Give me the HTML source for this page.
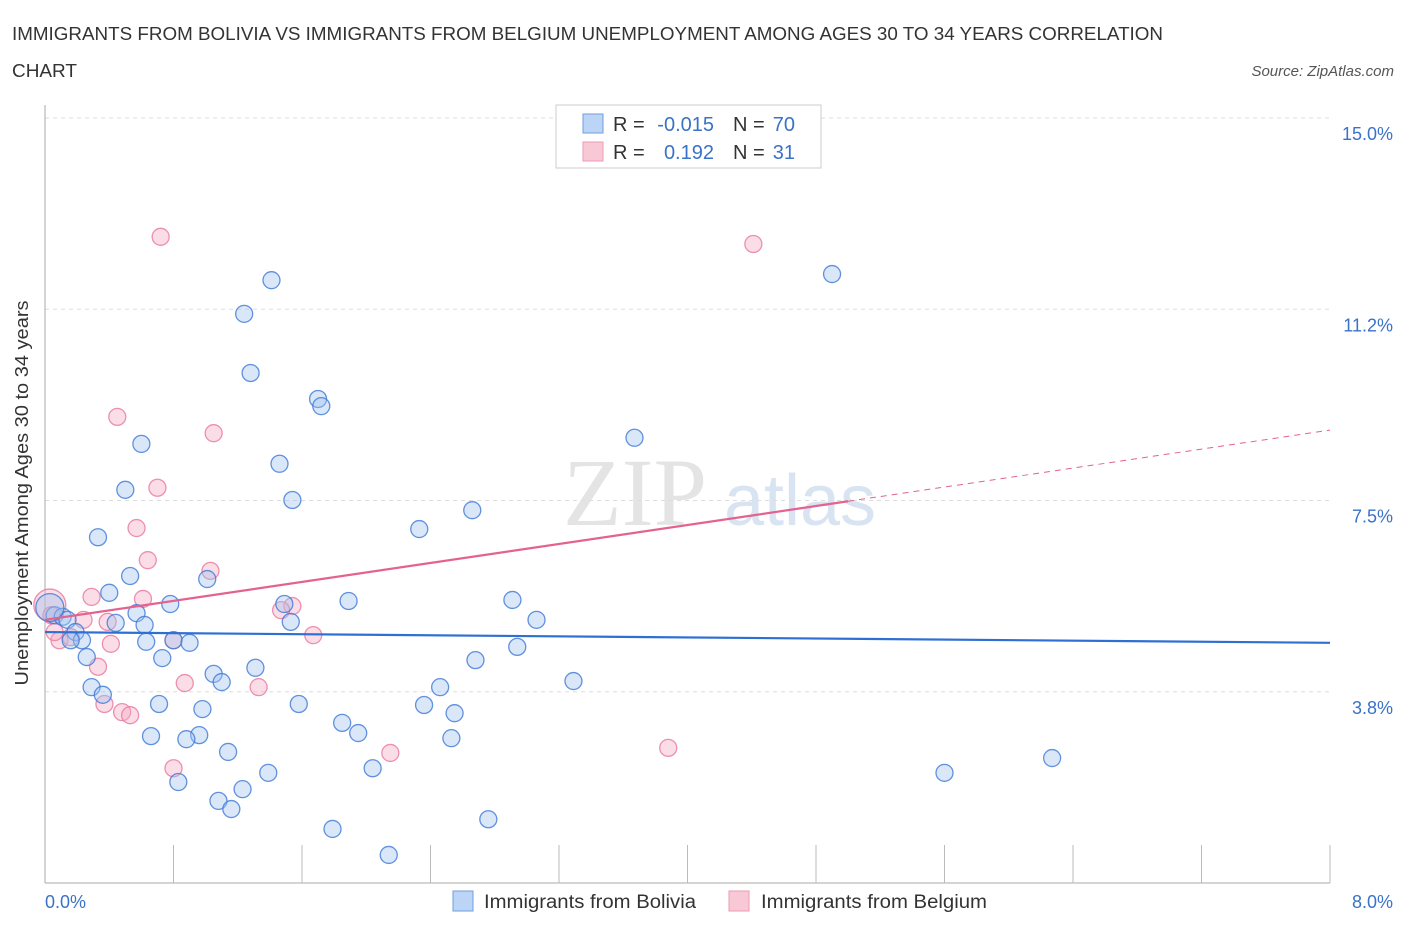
<!DOCTYPE html>
<html><head><meta charset="utf-8"><style>
body{margin:0;background:#fff;font-family:"Liberation Sans",sans-serif;}
</style></head><body>
<svg width="1406" height="930" xmlns="http://www.w3.org/2000/svg" style="font-family:'Liberation Sans',sans-serif">
<text x="12" y="40" font-size="18.5" fill="#333" textLength="1151" lengthAdjust="spacingAndGlyphs">IMMIGRANTS FROM BOLIVIA VS IMMIGRANTS FROM BELGIUM UNEMPLOYMENT AMONG AGES 30 TO 34 YEARS CORRELATION</text>
<text x="12" y="77" font-size="18.5" fill="#333" textLength="65" lengthAdjust="spacingAndGlyphs">CHART</text>
<text x="1394" y="76" font-size="15" fill="#555" font-style="italic" text-anchor="end">Source: ZipAtlas.com</text>
<text x="635" y="525" font-size="96" fill="#e4e4e4" font-family="Liberation Serif" text-anchor="middle">ZIP</text>
<text x="800" y="525" font-size="72" fill="#d8e4f2" text-anchor="middle">atlas</text>
<g id="grid"></g>
<line x1="45" y1="105" x2="45" y2="883" stroke="#aaa"/>
<line x1="45" y1="883" x2="1330" y2="883" stroke="#aaa"/>
<g id="xticks"></g>
<g id="marks"></g>
<text x="28" y="493" font-size="18" fill="#333" text-anchor="middle" textLength="385" lengthAdjust="spacingAndGlyphs" transform="rotate(-90 28 493)">Unemployment Among Ages 30 to 34 years</text>
<text x="45" y="908" font-size="18" fill="#3a72c8">0.0%</text>
<text x="1393" y="908" font-size="18" fill="#3a72c8" text-anchor="end">8.0%</text>
<g>
<rect x="556" y="105" width="265" height="63" fill="#fff" stroke="#ccc"/>
<rect x="583" y="114" width="20" height="19" fill="#bcd4f5" stroke="#6f9ee0"/>
<rect x="583" y="142" width="20" height="19" fill="#f9c8d6" stroke="#ec9ab2"/>
<text x="613" y="131" font-size="20" fill="#333">R =</text>
<text x="714" y="131" font-size="20" fill="#3a72c8" text-anchor="end">-0.015</text>
<text x="733" y="131" font-size="20" fill="#333">N =</text>
<text x="795" y="131" font-size="20" fill="#3a72c8" text-anchor="end">70</text>
<text x="613" y="159" font-size="20" fill="#333">R =</text>
<text x="714" y="159" font-size="20" fill="#3a72c8" text-anchor="end">0.192</text>
<text x="733" y="159" font-size="20" fill="#333">N =</text>
<text x="795" y="159" font-size="20" fill="#3a72c8" text-anchor="end">31</text>
</g>
<g>
<rect x="453" y="891" width="20" height="20" fill="#bcd4f5" stroke="#6f9ee0"/>
<text x="484" y="908" font-size="19" fill="#333" textLength="212" lengthAdjust="spacingAndGlyphs">Immigrants from Bolivia</text>
<rect x="729" y="891" width="20" height="20" fill="#f9c8d6" stroke="#ec9ab2"/>
<text x="761" y="908" font-size="19" fill="#333" textLength="226" lengthAdjust="spacingAndGlyphs">Immigrants from Belgium</text>
</g>
</svg>
<script>
const yTicks=[3.8,7.5,11.2,15.0];
const yTickVals=[3.75,7.5,11.25,15];
const blueX=[1.41,1.24,1.28,4.90,1.70,1.72,0.60,1.46,3.67,0.50,1.54,2.66,2.33,0.33,0.53,1.01,0.40,0.78,1.49,1.89,2.91,0.57,3.06,1.53,0.44,0.62,0.06,0.11,0.14,0.19,0.23,0.16,0.63,0.80,0.90,0.26,0.73,2.68,2.94,1.31,1.05,1.10,3.29,0.29,2.46,0.36,0.71,0.98,1.58,2.36,2.55,1.85,1.95,0.66,0.96,0.88,2.53,1.14,2.04,1.39,5.60,6.27,0.83,1.23,1.08,1.16,2.76,1.79,2.14,0.03];
const blueY=[11.82,11.16,10.0,11.94,9.49,9.35,8.61,8.22,8.73,7.71,7.51,7.31,6.94,6.78,6.02,5.96,5.69,5.47,5.47,5.53,5.55,5.29,5.16,5.12,5.10,5.06,5.25,5.22,5.16,4.92,4.76,4.76,4.73,4.76,4.71,4.43,4.41,4.37,4.63,4.22,4.10,3.94,3.96,3.84,3.84,3.69,3.51,3.41,3.51,3.49,3.33,3.14,2.94,2.88,2.90,2.82,2.84,2.57,2.25,2.16,2.16,2.45,1.98,1.84,1.61,1.45,1.25,1.06,0.55,5.40];
const pinkX=[0.72,4.41,0.45,1.05,0.70,0.57,0.64,1.03,0.29,0.61,1.54,1.47,0.24,0.39,0.03,1.67,0.80,0.09,0.41,0.16,0.33,0.87,1.33,0.37,0.48,0.53,2.15,3.88,0.80,0.06,0.04];
const pinkY=[12.67,12.53,9.14,8.82,7.75,6.96,6.33,6.12,5.61,5.57,5.43,5.35,5.16,5.12,5.45,4.86,4.76,4.76,4.69,4.82,4.24,3.92,3.84,3.51,3.35,3.29,2.55,2.65,2.25,4.92,5.25];
const blueTrend=[4.92,4.71];
const pinkTrend=[5.16,8.88];
const xMax=8;
const sx=v=>45+v/xMax*1285;
const sy=v=>118+(15-v)*51;
const NS='http://www.w3.org/2000/svg';
const grid=document.getElementById('grid');
yTickVals.forEach((v,i)=>{
 const l=document.createElementNS(NS,'line');
 
 
 l.setAttribute('x1',45);l.setAttribute('x2',1330);l.setAttribute('y1',sy(v));l.setAttribute('y2',sy(v));
 l.setAttribute('stroke','#ddd');l.setAttribute('stroke-dasharray','4 4');
 grid.appendChild(l);
 const t=document.createElementNS(NS,'text');
 
 
 t.setAttribute('x',1393);t.setAttribute('y',sy(v)+22);t.setAttribute('text-anchor','end');
 t.setAttribute('font-size','18');t.setAttribute('fill','#3a72c8');
 t.textContent=yTicks[i].toFixed(1)+'%';
 grid.appendChild(t);
});
const xt=document.getElementById('xticks');
for(let i=1;i<=10;i++){
 const l=document.createElementNS(NS,'line');
 
 
 const x=sx(i*0.8);
 l.setAttribute('x1',x);l.setAttribute('x2',x);l.setAttribute('y1',845);l.setAttribute('y2',883);
 l.setAttribute('stroke','#bbb');
 xt.appendChild(l);
}
const marks=document.getElementById('marks');
function dot(x,y,r,fill,stroke,name){
 const c=document.createElementNS(NS,'circle');
 
 
 c.setAttribute('cx',sx(x));c.setAttribute('cy',sy(y));c.setAttribute('r',r);
 c.setAttribute('fill',fill);c.setAttribute('stroke',stroke);c.setAttribute('stroke-width','1.3');
 marks.appendChild(c);
}
pinkX.forEach((x,i)=>dot(x,pinkY[i],i===14?16:8.5,'rgba(246,170,195,0.4)','rgba(232,120,155,0.8)','belgium-point'));
blueX.forEach((x,i)=>dot(x,blueY[i],i===69?14:8.5,'rgba(160,195,240,0.4)','rgba(60,120,215,0.8)','bolivia-point'));
function line(x1,y1,x2,y2,col,w,dash,name){
 const l=document.createElementNS(NS,'line');
 
 
 l.setAttribute('x1',sx(x1));l.setAttribute('y1',sy(y1));l.setAttribute('x2',sx(x2));l.setAttribute('y2',sy(y2));
 l.setAttribute('stroke',col);l.setAttribute('stroke-width',w);
 if(dash)l.setAttribute('stroke-dasharray',dash);
 marks.appendChild(l);
}
line(0,blueTrend[0],xMax,blueTrend[1],'#2e6fd4',2.2,null,'bolivia-trendline');
const xs=5.0, ymid=pinkTrend[0]+(pinkTrend[1]-pinkTrend[0])*xs/xMax;
line(0,pinkTrend[0],xs,ymid,'#e4628f',2.2,null,'belgium-trendline');
line(xs,ymid,xMax,pinkTrend[1],'#e4628f',1,'6 5','belgium-trendline-extension');
</script>
</body></html>
